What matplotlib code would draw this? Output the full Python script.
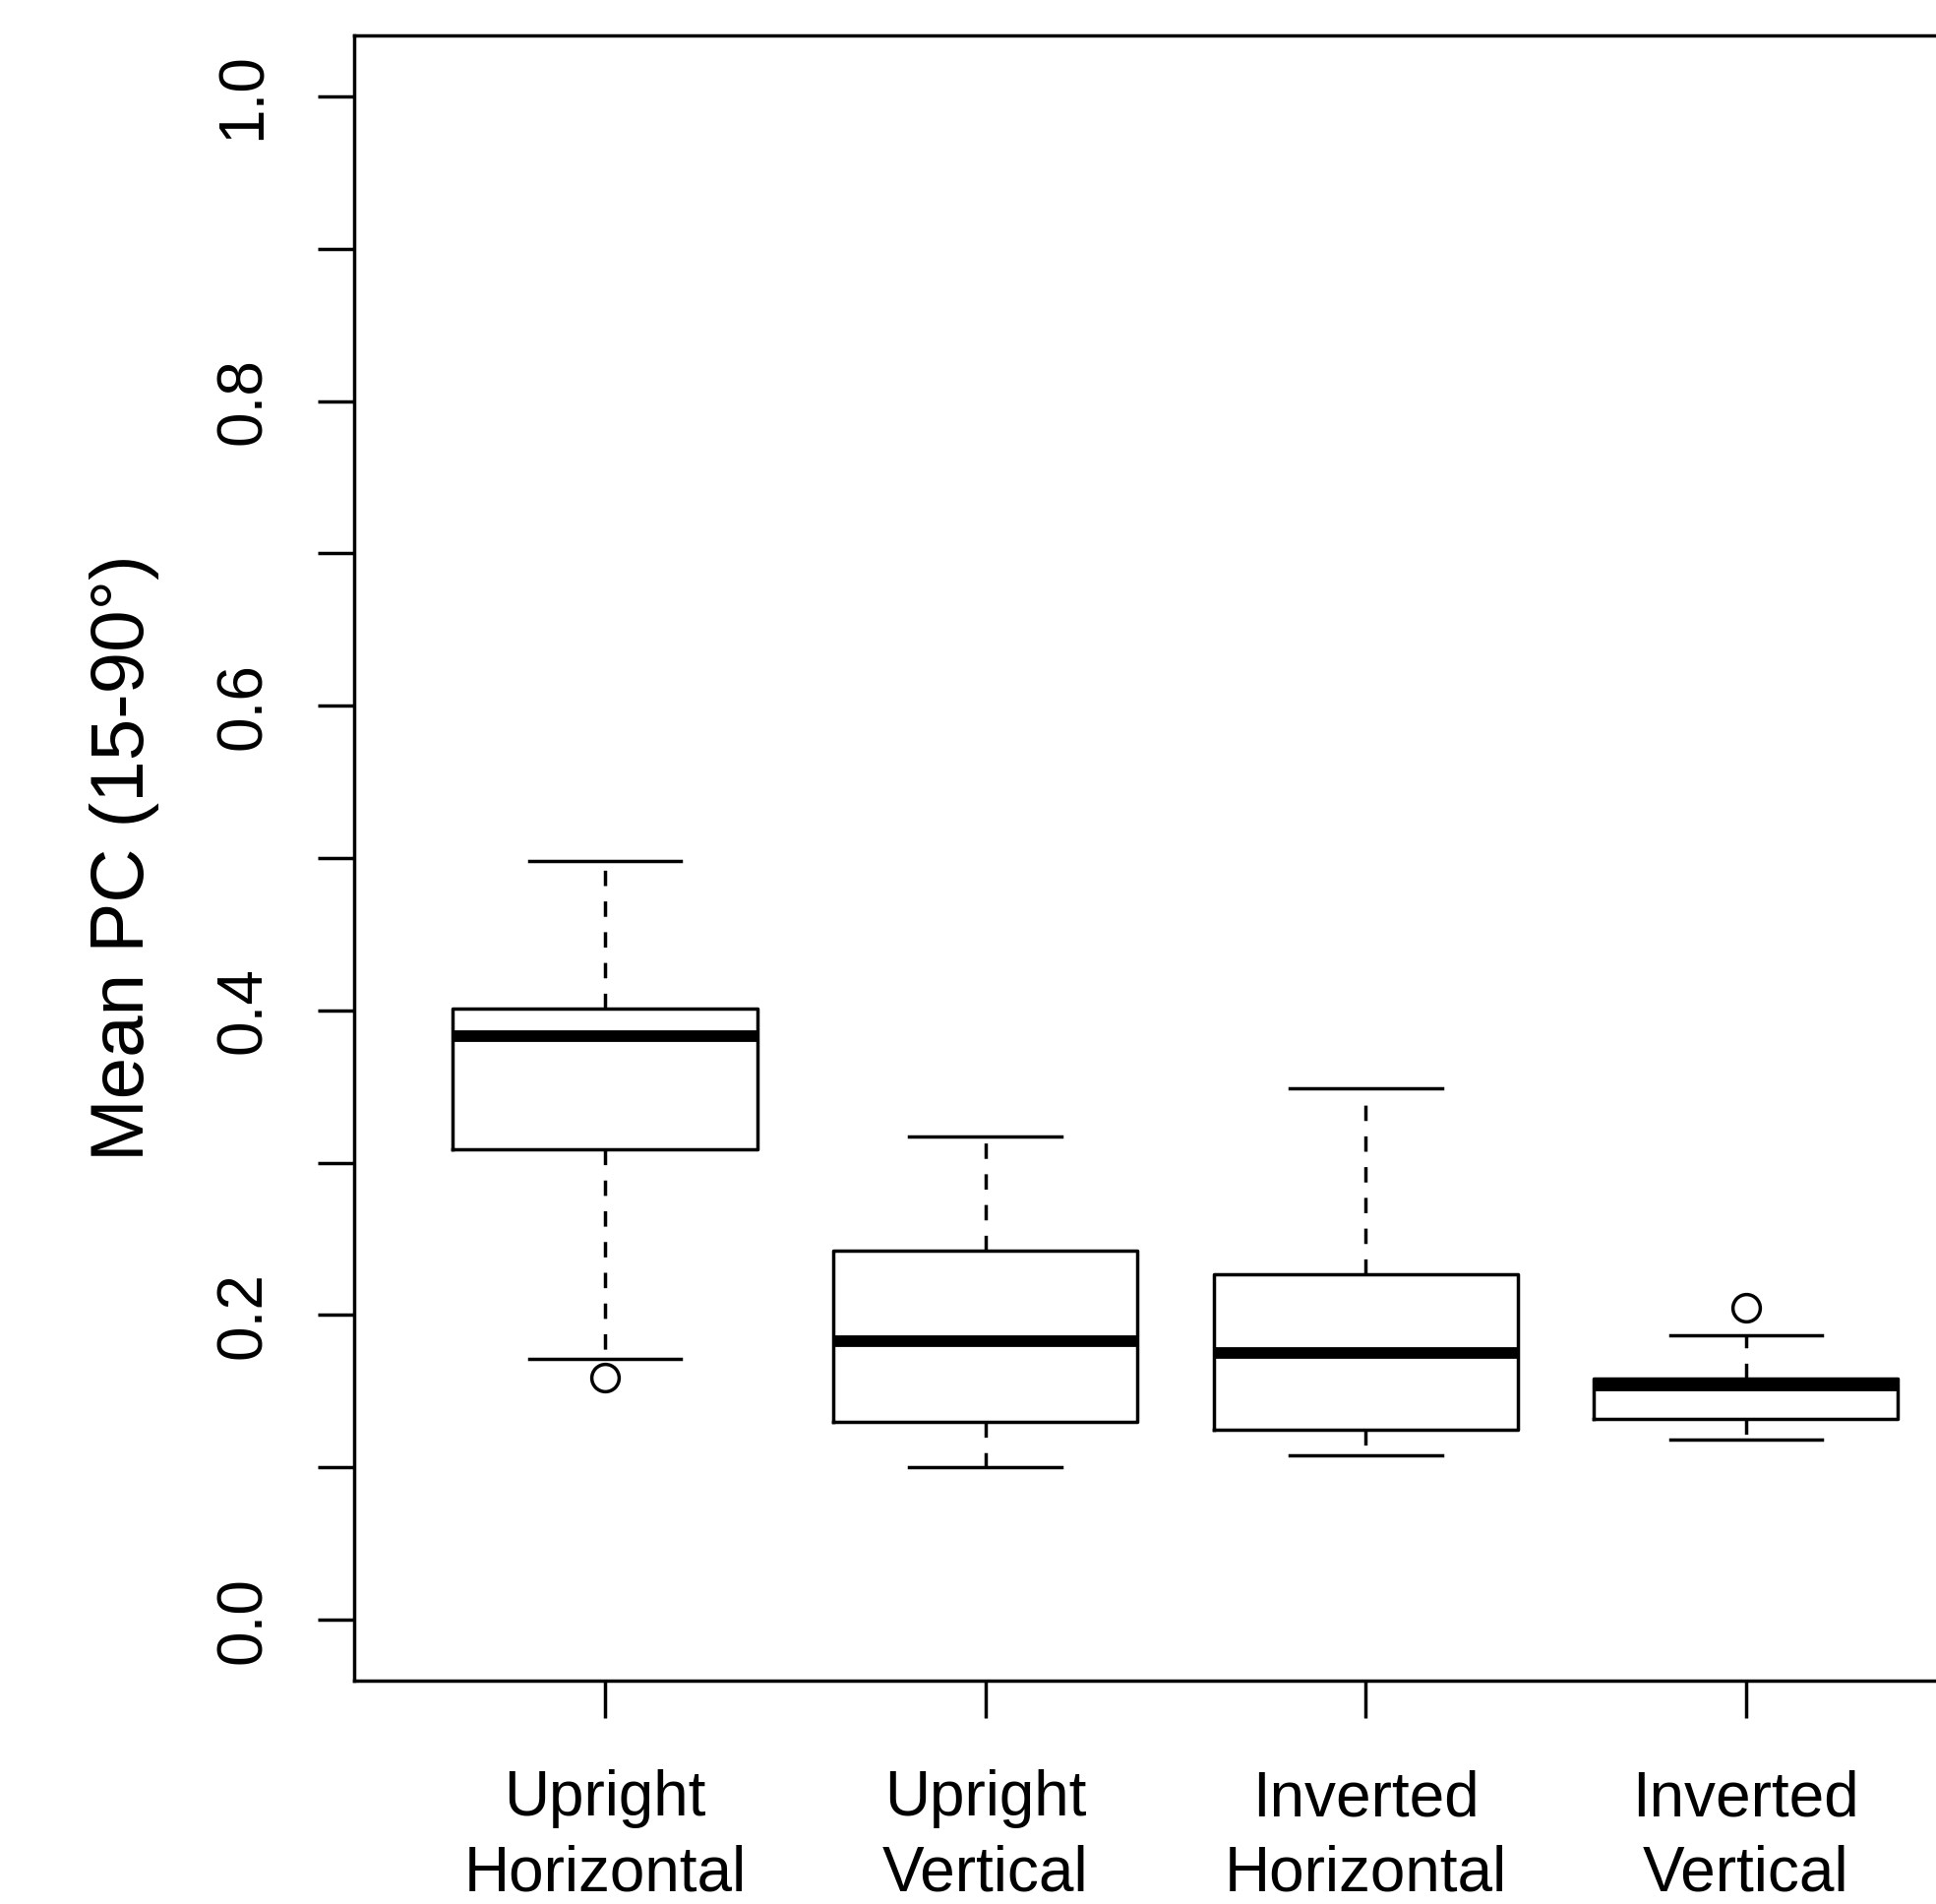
#!/usr/bin/env python3
"""
Mean PC (15-90°) boxplot, R-style look
"""
import matplotlib
matplotlib.use("Agg")
import matplotlib.pyplot as plt

# 数据
labels = ['Upright\nHorizontal', 'Upright\nVertical',
          'Inverted\nHorizontal', 'Inverted\nVertical']
whislo = [0.171, 0.100, 0.108, 0.118]
q1 = [0.309, 0.130, 0.125, 0.132]
med = [0.383, 0.183, 0.175, 0.154]
q3 = [0.401, 0.242, 0.227, 0.158]
whishi = [0.498, 0.317, 0.349, 0.187]
fliers = [[0.159], [], [], [0.205]]

plt.rcParams['font.family'] = ['Liberation Sans', 'DejaVu Sans']

fig = plt.figure(figsize=(19.68, 19.35), dpi=100, facecolor='white')
# axes 右边界超出画布（与原图一致）
ax = fig.add_axes([0.1829, 0.1173, 0.8486, 0.8641])

stats = []
for i in range(len(labels)):
    stats.append({'label': labels[i], 'whislo': whislo[i], 'q1': q1[i],
                  'med': med[i], 'q3': q3[i], 'whishi': whishi[i],
                  'fliers': fliers[i]})

lw = 2.5
ax.bxp(stats, positions=[1, 2, 3, 4], widths=0.8, capwidths=0.4,
       boxprops=dict(color='black', linewidth=lw),
       medianprops=dict(color='black', linewidth=8.5, solid_capstyle='butt'),
       whiskerprops=dict(color='black', linewidth=lw, linestyle=(0, (4.5, 4.5))),
       capprops=dict(color='black', linewidth=lw),
       flierprops=dict(marker='o', markersize=20, markerfacecolor='none',
                       markeredgecolor='black', markeredgewidth=lw))

ax.set_xlim(0.34, 4.66)
ax.set_ylim(-0.04, 1.04)

yt = [i / 10 for i in range(11)]
ax.set_yticks(yt)
ax.set_yticklabels([f"{v:.1f}" if i % 2 == 0 else '' for i, v in enumerate(yt)],
                   rotation=90, va='center')
ax.set_xticks([1, 2, 3, 4])
ax.set_xticklabels(labels, linespacing=1.35)

ax.tick_params(axis='both', which='major', length=27, width=lw,
               labelsize=46, color='black')
ax.tick_params(axis='y', pad=32)
ax.tick_params(axis='x', pad=38)

for sp in ax.spines.values():
    sp.set_linewidth(lw)

ax.set_ylabel('Mean PC (15-90°)', fontsize=55, labelpad=40)

fig.savefig('out.png', dpi=100, facecolor='white')
